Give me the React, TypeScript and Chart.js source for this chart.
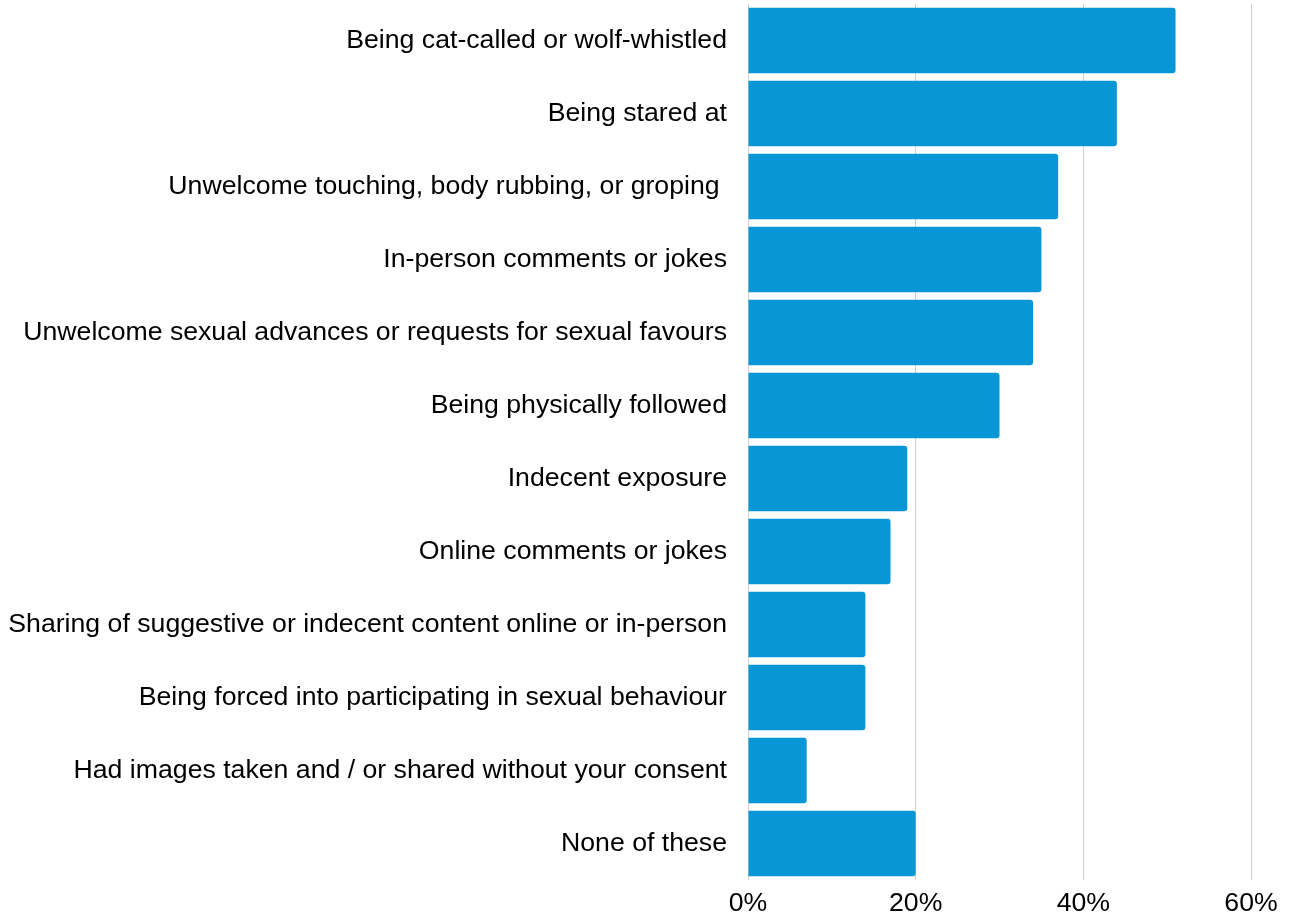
import React, { useEffect, useRef } from "react";
import { Chart, registerables } from "chart.js";

Chart.register(...registerables);

const categories: string[] = [
  "Being cat-called or wolf-whistled",
  "Being stared at",
  "Unwelcome touching, body rubbing, or groping ",
  "In-person comments or jokes",
  "Unwelcome sexual advances or requests for sexual favours",
  "Being physically followed",
  "Indecent exposure",
  "Online comments or jokes",
  "Sharing of suggestive or indecent content online or in-person",
  "Being forced into participating in sexual behaviour",
  "Had images taken and / or shared without your consent",
  "None of these",
];

const values: number[] = [51, 44, 37, 35, 34, 30, 19, 17, 14, 14, 7, 20];

const xTicks: number[] = [0, 20, 40, 60];

const FONT_FAMILY = "'Liberation Sans', Arial, sans-serif";
const FONT_SIZE = 26.67;
const Y_GAP = 21;

export default function App() {
  const ref = useRef<HTMLCanvasElement | null>(null);

  useEffect(() => {
    if (!ref.current) return;
    const font = { family: FONT_FAMILY, size: FONT_SIZE };
    const chart = new Chart(ref.current, {
      type: "bar",
      data: {
        labels: categories,
        datasets: [
          {
            data: values,
            backgroundColor: "#0896d7",
            borderWidth: 0,
            borderRadius: 3,
            barPercentage: 0.9,
            categoryPercentage: 1,
          },
        ],
      },
      options: {
        indexAxis: "y",
        animation: false,
        responsive: true,
        maintainAspectRatio: false,
        layout: { padding: { top: 4, left: 8, right: 40, bottom: 0 } },
        plugins: {
          legend: { display: false },
          tooltip: { enabled: false },
        },
        scales: {
          x: {
            min: 0,
            max: 60,
            afterBuildTicks: (scale: any) => {
              scale.ticks = xTicks.map((v) => ({ value: v }));
            },
            grid: { color: "#d0d0d0", lineWidth: 1, drawTicks: false },
            border: { display: false },
            ticks: {
              padding: 8,
              color: "#000",
              font,
              callback: (v: any) => v + "%",
            },
            afterFit: (scale: any) => {
              scale.height = scale.height - 12;
            },
          },
          y: {
            grid: {
              display: true,
              drawOnChartArea: false,
              drawTicks: true,
              tickLength: Y_GAP,
              tickColor: "rgba(0,0,0,0)",
            },
            border: { display: false },
            ticks: { padding: 0, color: "#000", font, autoSkip: false },
            afterFit: (scale: any) => {
              const ctx = scale.ctx as CanvasRenderingContext2D;
              ctx.save();
              ctx.font = `${FONT_SIZE}px ${FONT_FAMILY}`;
              let w = 0;
              for (const c of categories) w = Math.max(w, ctx.measureText(c).width);
              ctx.restore();
              scale.width = Math.ceil(w) + Y_GAP;
              scale.paddingTop = 0;
              scale.paddingBottom = 0;
            },
          },
        },
      },
    });
    return () => chart.destroy();
  }, []);

  return (
    <div style={{ position: "absolute", left: 0, top: 0, width: 1291, height: 916 }}>
      <canvas ref={ref} />
    </div>
  );
}
